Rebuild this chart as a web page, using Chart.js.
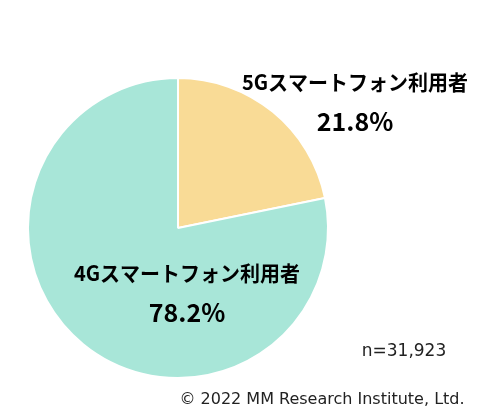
<!DOCTYPE html>
<html>
<head>
<meta charset="utf-8">
<script src="https://cdn.jsdelivr.net/npm/chart.js@4"></script>
<style>
  html, body { margin: 0; padding: 0; background: #fff; }
  #wrap { width: 496px; height: 418px; position: relative; }
</style>
</head>
<body>
<div id="wrap"><canvas id="pie-chart"></canvas></div>
<script>
// Data
const categories = ['5Gスマートフォン利用者', '4Gスマートフォン利用者'];
const shares = [21.8, 78.2];
const sliceColors = ['#F9DB96', '#A8E6D8'];
const sampleNote = 'n=31,923';
const copyright = '© 2022 MM Research Institute, Ltd.';

const JP_FONT = "'Noto Sans CJK JP', 'Noto Sans', sans-serif";
const LAT_FONT = "'DejaVu Sans', Verdana, sans-serif";

// Slice labels + notes, drawn after the pie
const labelPlugin = {
  id: 'sliceLabels',
  afterDraw(chart) {
    const ctx = chart.ctx;
    ctx.save();
    ctx.fillStyle = '#000';
    ctx.textAlign = 'center';
    ctx.textBaseline = 'middle';

    // label spots: [name x, name y, pct y]
    const spots = [
      [355, 82, 121],
      [187, 273, 312]
    ];
    categories.forEach((name, i) => {
      const [x, y, py] = spots[i];
      ctx.font = 'bold 21px ' + JP_FONT;
      ctx.fillText(name, x, y, 226);
      ctx.font = 'bold 25px ' + JP_FONT;
      ctx.fillText(shares[i].toFixed(1) + '%', x, py);
    });

    ctx.font = '17px ' + LAT_FONT;
    ctx.fillStyle = '#222';
    ctx.fillText(sampleNote, 404, 352);
    ctx.font = '16px ' + LAT_FONT;
    ctx.fillText(copyright, 322, 400, 289);
    ctx.restore();
  }
};

new Chart(document.getElementById('pie-chart').getContext('2d'), {
  type: 'pie',
  data: {
    labels: categories,
    datasets: [{
      data: shares,
      backgroundColor: sliceColors,
      borderColor: '#ffffff',
      borderWidth: 2
    }]
  },
  options: {
    responsive: true,
    maintainAspectRatio: false,
    animation: false,
    layout: {
      padding: { left: 27, right: 167, top: 77, bottom: 39 }
    },
    plugins: {
      legend: { display: false },
      tooltip: { enabled: false }
    }
  },
  plugins: [labelPlugin]
});
</script>
</body>
</html>
